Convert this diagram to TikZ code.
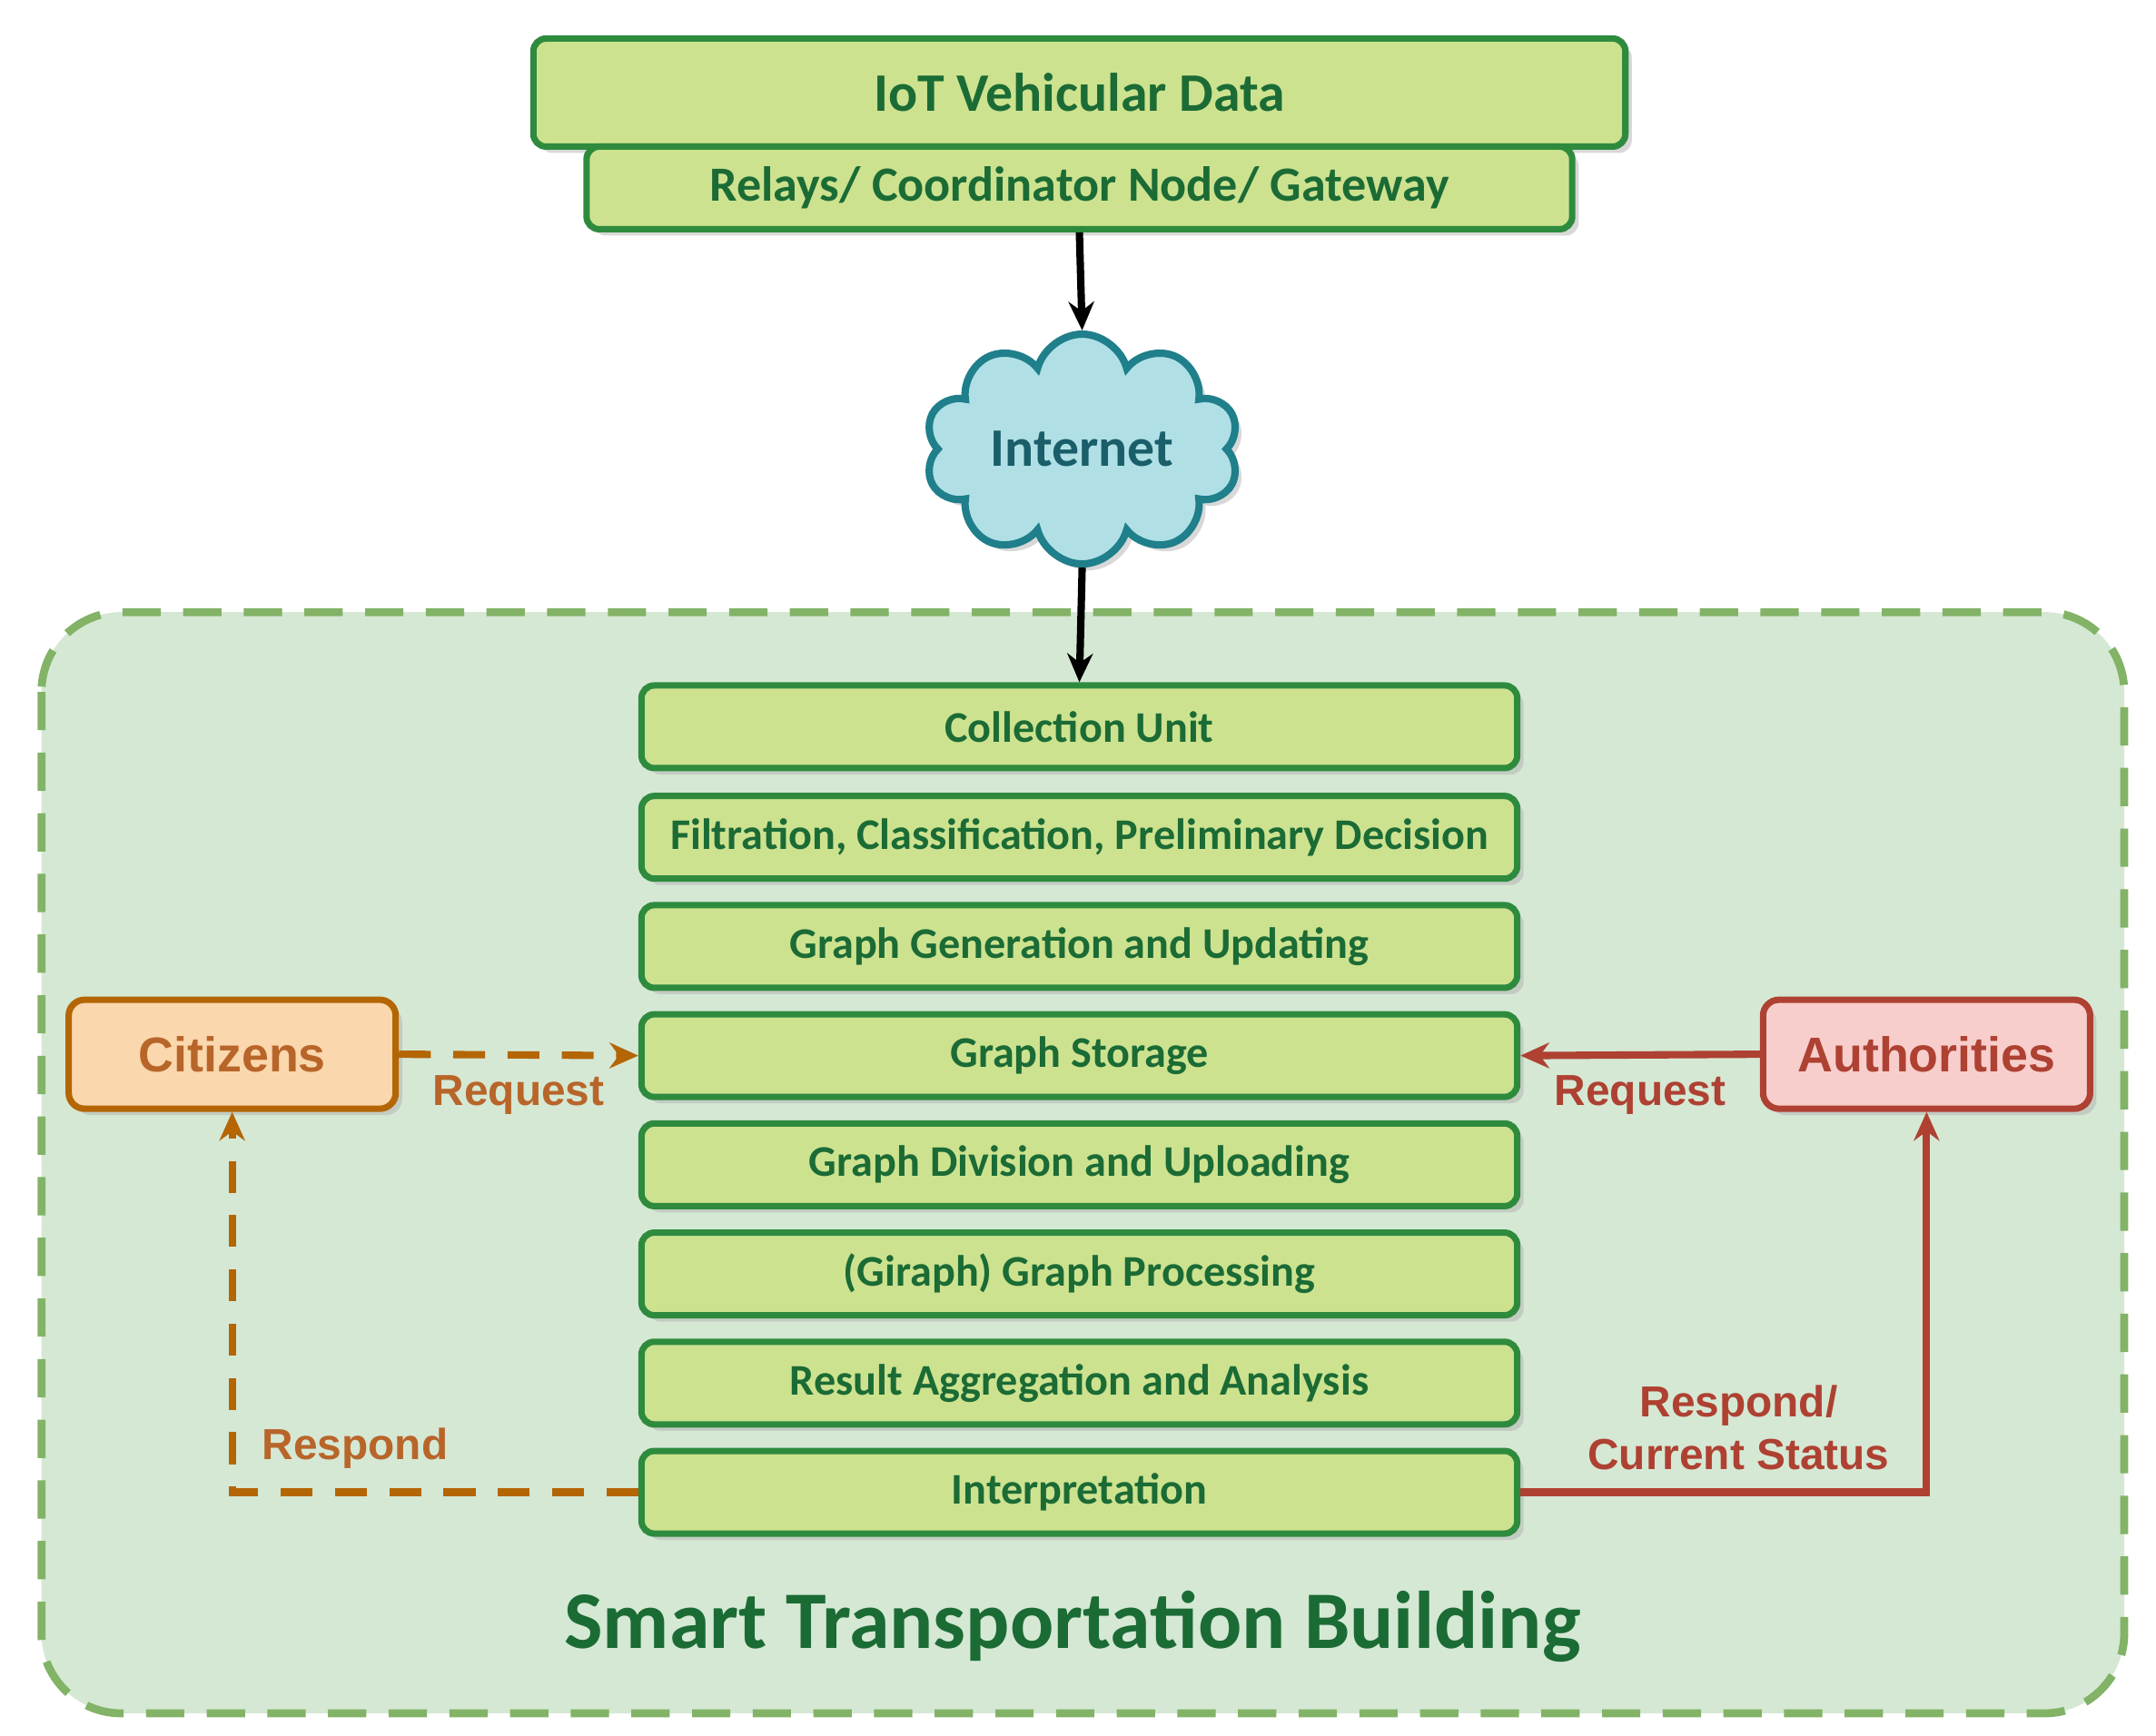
\documentclass[tikz,border=0pt]{standalone}
\usepackage{fontspec}
\setmainfont{Carlito}
\newfontfamily\arialf{Liberation Sans}
\usetikzlibrary{shapes.symbols,shadows,arrows.meta}
\definecolor{gfill}{HTML}{CDE28F}
\definecolor{gline}{HTML}{2E8B3E}
\definecolor{gtext}{HTML}{1B6B35}
\definecolor{cfill}{HTML}{B0E0E6}
\definecolor{cline}{HTML}{1F7F8A}
\definecolor{ctext}{HTML}{1A5E6A}
\definecolor{bfill}{HTML}{D5E8D4}
\definecolor{bline}{HTML}{82B366}
\definecolor{ofill}{HTML}{FAD7AC}
\definecolor{oline}{HTML}{B46504}
\definecolor{otext}{HTML}{B8652A}
\definecolor{rfill}{HTML}{F8CECC}
\definecolor{rline}{HTML}{AE4132}
\begin{document}
\begin{tikzpicture}[x=0.01522cm,y=-0.01522cm,
 gbox/.style={draw=gline,fill=gfill,line width=2pt,rounded corners=4pt,text=gtext,inner sep=0pt,font=\bfseries\fontsize{13.7}{16}\selectfont,drop shadow={shadow xshift=2pt,shadow yshift=-2pt,fill=gray!60}},
 side/.style={line width=2pt,rounded corners=5pt,inner sep=0pt,minimum width=3.6cm,minimum height=1.2cm,font=\arialf\bfseries\fontsize{15.3}{18}\selectfont,drop shadow={shadow xshift=2pt,shadow yshift=-2pt,fill=gray!60}},
 arr/.style={line width=2.3pt,-{Stealth[length=9pt,width=8pt]}},
 lab/.style={font=\arialf\bfseries\fontsize{13.6}{16.5}\selectfont,align=center}]
\useasboundingbox (0,0) rectangle (1560,1256);
\path[draw=bline,fill=bfill,dash pattern=on 12pt off 7pt,line width=2.5pt,rounded corners=25pt] (30,443) rectangle (1537,1240);
\node[gbox,minimum width=12.02cm,minimum height=1.19cm,font=\bfseries\fontsize{17}{20}\selectfont] (iot) at (781,67) {IoT Vehicular Data};
\node[gbox,minimum width=10.85cm,minimum height=0.91cm,font=\bfseries\fontsize{15.4}{18}\selectfont] (relay) at (781,136) {Relays/ Coordinator Node/ Gateway};
\node[cloud,cloud puffs=10,aspect=1.7,draw=cline,fill=cfill,line width=2.3pt,minimum width=3.27cm,minimum height=1.72cm,text=ctext,font=\bfseries\fontsize{17}{20}\selectfont,drop shadow={shadow xshift=2pt,shadow yshift=-2pt,fill=gray!60}] (net) at (783,325) {Internet};
\foreach \n/\y/\t in {cu/526/Collection Unit,fi/606/{Filtration, Classification, Preliminary Decision},gg/685/Graph Generation and Updating,gs/764/Graph Storage,gd/843/Graph Division and Uploading,gp/922/(Giraph) Graph Processing,ra/1001/Result Aggregation and Analysis,in/1080/Interpretation}
 \node[gbox,minimum width=9.64cm,minimum height=0.91cm] (\n) at (781,\y) {\t};
\node[side,draw=oline,fill=ofill,text=otext] (cit) at (168,763) {Citizens};
\node[side,draw=rline,fill=rfill,text=rline] (aut) at (1394,763) {Authorities};
\draw[arr] (relay.south) -- (net.north);
\draw[arr] (net.south) -- (cu.north);
\draw[arr,draw=oline,dash pattern=on 10pt off 7pt] (cit.east) -- (gs.west) node[lab,midway,below,text=otext,yshift=-2pt] {Request};
\draw[arr,draw=rline] (aut.west) -- (gs.east) node[lab,midway,below,text=rline,yshift=-2pt] {Request};
\draw[arr,draw=oline,dash pattern=on 10pt off 7pt] (in.west) -| (cit.south);
\node[lab,text=otext] (rl) at (257,1048) {Respond};
\draw[arr,draw=rline] (in.east) -| (aut.south);
\node[lab,text=rline] (rr) at (1258,1033) {Respond/\\Current Status};
\node[text=gtext,font=\bfseries\fontsize{25.6}{30}\selectfont] (title) at (776,1177) {Smart Transportation Building};
\end{tikzpicture}
\end{document}
